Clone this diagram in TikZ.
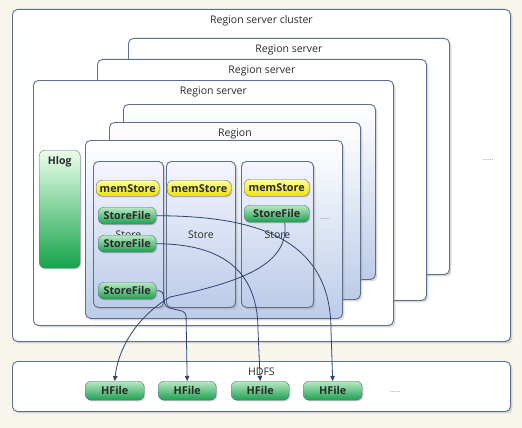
\documentclass[tikz,border=0pt]{standalone}
\usepackage{fontspec}
\setmainfont{Open Sans}
\usetikzlibrary{shadows,arrows.meta}
\definecolor{bgCream}{HTML}{F8F5EC}
\definecolor{edgeBlue}{HTML}{5E6F8E}
\definecolor{paleBlue}{HTML}{BCCCE8}
\definecolor{darkNavy}{HTML}{2D4475}
\definecolor{inkGrey}{HTML}{2A2A2A}
\definecolor{memLight}{HTML}{FFFFA0}
\definecolor{memDark}{HTML}{EDE200}
\definecolor{fileLight}{HTML}{B8EAC4}
\definecolor{fileDark}{HTML}{1E9E50}
\definecolor{logDark}{HTML}{16A34A}

\begin{document}
\begin{tikzpicture}[
    x=1pt, y=-1pt,
    font=\fontsize{10.5}{12}\selectfont, text=inkGrey,
    panel/.style={draw=edgeBlue, fill=white, line width=0.9pt, rounded corners=5pt,
      anchor=north west, inner sep=0pt,
      drop shadow={shadow xshift=2pt, shadow yshift=-2pt, opacity=0.3}},
    regionbox/.style={panel, top color=white, bottom color=paleBlue},
    storebox/.style={panel, top color=blue!4, bottom color=paleBlue},
    pill/.style={draw=edgeBlue, rounded corners=6pt, anchor=north west, inner sep=0pt,
      font=\fontsize{10.8}{12}\selectfont\bfseries,
      drop shadow={shadow xshift=1.2pt, shadow yshift=-1.2pt, opacity=0.3}},
    memstore/.style={pill, top color=memLight, bottom color=memDark},
    storefile/.style={pill, top color=fileLight, bottom color=fileDark},
    title/.style={anchor=north, yshift=-3pt},
    flow/.style={draw=darkNavy, line width=0.8pt, -{Triangle[length=5pt,width=4.5pt]}},
    dots/.style={text=gray, font=\fontsize{7}{8}\selectfont},
  ]
  \fill[bgCream] (0,0) rectangle (522,428);
  \useasboundingbox (0,0) rectangle (522,428);

  % cluster and servers
  \node[panel, minimum width=498, minimum height=332,
    label={[title]north:Region server cluster}] (cluster) at (12,9) {};
  \node[panel, minimum width=321, minimum height=236,
    label={[title]north:Region server}] (rsBack) at (128,38) {};
  \node[panel, minimum width=329, minimum height=241,
    label={[title]north:Region server}] (rsMid) at (97,59) {};
  \node[panel, minimum width=360, minimum height=245,
    label={[title]north:Region server}] (rsFront) at (33,80) {};
  \node[dots] (dotsServer) at (488,160) {......};

  % regions
  \node[regionbox, minimum width=252, minimum height=175] (regBack) at (123,104) {};
  \node[regionbox, minimum width=251, minimum height=177,
    label={[title]north:Region}] (regMid) at (109,122) {};
  \node[regionbox, minimum width=257, minimum height=178] (regFront) at (85,140) {};

  \node[pill, top color=green!8, bottom color=logDark, minimum width=41, minimum height=118,
    label={[title, font=\fontsize{10.5}{12}\selectfont\bfseries]north:Hlog}] (hlog) at (39,150) {};

  % stores
  \node[storebox, minimum width=70, minimum height=146] (storeA) at (93,161) {Store};
  \node[storebox, minimum width=69, minimum height=146] (storeB) at (166,161) {Store};
  \node[storebox, minimum width=72, minimum height=146] (storeC) at (241,161) {Store};
  \node[dots] (dotsStore) at (325,219) {......};

  \node[memstore, minimum width=63, minimum height=16] (memA) at (96,180) {memStore};
  \node[memstore, minimum width=64, minimum height=16] (memB) at (167,180) {memStore};
  \node[memstore, minimum width=65, minimum height=17] (memC) at (244,179) {memStore};

  \node[storefile, minimum width=58, minimum height=17] (sfA1) at (98,207) {StoreFile};
  \node[storefile, minimum width=58, minimum height=17] (sfA2) at (98,235) {StoreFile};
  \node[storefile, minimum width=58, minimum height=17] (sfA3) at (98,282) {StoreFile};
  \node[storefile, minimum width=65, minimum height=17] (sfC) at (244,205) {StoreFile};

  % hdfs
  \node[panel, minimum width=498, minimum height=50,
    label={[title]north:HDFS}] (hdfs) at (12,361) {};
  \node[storefile, minimum width=59, minimum height=19] (hf1) at (85,381) {HFile};
  \node[storefile, minimum width=58, minimum height=19] (hf2) at (158,381) {HFile};
  \node[storefile, minimum width=58, minimum height=19] (hf3) at (231,381) {HFile};
  \node[storefile, minimum width=59, minimum height=19] (hf4) at (303,381) {HFile};
  \node[dots] (dotsHdfs) at (395,392) {......};

  % flushes to hdfs
  \draw[flow] (sfA1.east) .. controls (250,216) and (331,235) .. (331,330) -- (hf4.north);
  \draw[flow] (sfA2.east) .. controls (215,244) and (258,265) .. (258,330) -- (hf3.north);
  \draw[flow, rounded corners=4pt] (sfA3.east) -- (163,291) -- (165,307) -- (186,312) -- (hf2.north);
  \draw[flow] ([xshift=8pt]sfC.south) .. controls (290,265) and (240,282) .. (170,297)
    .. controls (135,318) and (118,350) .. (hf1.north);
\end{tikzpicture}
\end{document}
